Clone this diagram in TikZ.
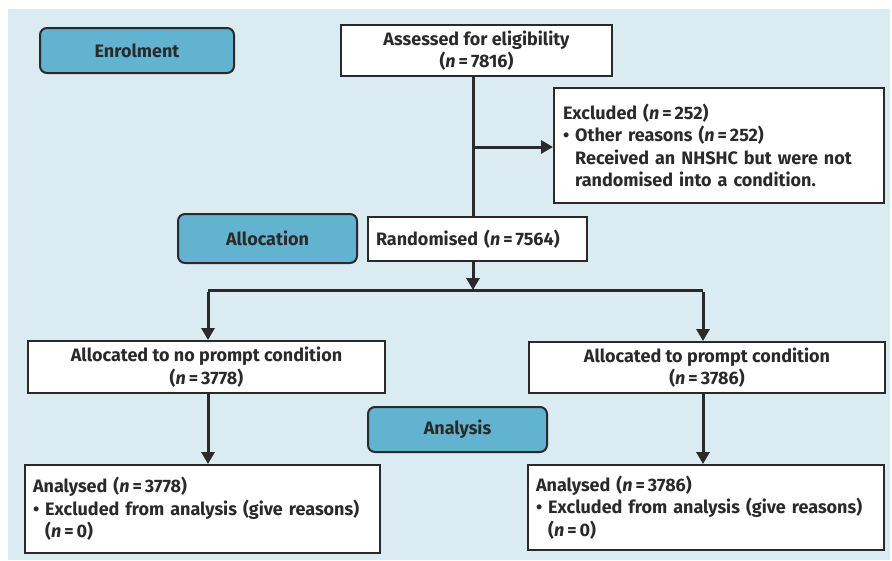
\documentclass[tikz,border=0pt]{standalone}
\usepackage{fontspec}
\setmainfont{Fira Sans}
\usetikzlibrary{arrows.meta,positioning}
\definecolor{bgblue}{HTML}{DBEBF2}
\definecolor{stage}{HTML}{62B3D0}
\definecolor{ink}{HTML}{2A2A2A}
\tikzset{
  box/.style={draw=ink, line width=2pt, fill=white, inner xsep=8pt, inner ysep=3pt,
    font=\bfseries\fontsize{18}{22.5}\selectfont, text=ink},
  stagebox/.style={draw=ink, line width=2pt, fill=stage, rounded corners=7pt,
    font=\bfseries\fontsize{18}{22}\selectfont, text=ink},
  conn/.style={draw=ink, line width=3pt},
  arr/.style={conn, -{Triangle[width=13pt,length=12pt]}}
}
\newcommand{\nn}{\textit{n}\,=\,}
\begin{document}
\begin{tikzpicture}[x=1pt,y=-1pt]
\useasboundingbox (0,0) rectangle (892,560);
\fill[white] (0,0) rectangle (892,560);
\fill[bgblue] (8,9) rectangle (890,560);
% stage labels
\node[stagebox, minimum width=194pt, minimum height=45pt] (enrol) at (137,50.5) {Enrolment};
\node[stagebox, minimum width=179pt, minimum height=49pt] (alloc) at (267.5,238.5) {Allocation};
\node[stagebox, minimum width=179pt, minimum height=45pt] (anal) at (457.5,429.5) {Analysis};
% boxes
\node[box, minimum width=271pt, minimum height=51pt, align=center] (assess) at (476.5,50.5)
  {Assessed for eligibility\\(\nn 7816)};
\node[box, minimum width=330pt, minimum height=115pt, text width=312pt, align=left] (excl) at (719,145.5)
  {Excluded (\nn 252)\\• Other reasons (\nn 252)\\\phantom{• }Received an NHSHC but were not\\\phantom{• }randomised into a condition.};
\node[box, minimum width=219pt, minimum height=44pt, text width=203pt, align=left] (rand) at (477.5,239)
  {Randomised (\nn 7564)};
\node[box, minimum width=357pt, minimum height=52pt, align=center] (lalloc) at (206.5,367)
  {Allocated to no prompt condition\\(\nn 3778)};
\node[box, minimum width=356pt, minimum height=51pt, align=center] (ralloc) at (707,367.5)
  {Allocated to prompt condition\\(\nn 3786)};
\node[box, minimum width=355pt, minimum height=88pt, text width=339pt, align=left] (lan) at (202.5,509)
  {Analysed (\nn 3778)\\• Excluded from analysis (give reasons)\\\phantom{• }(\nn 0)};
\node[box, minimum width=356pt, minimum height=85pt, text width=340pt, align=left] (ran) at (706,507.5)
  {Analysed (\nn 3786)\\• Excluded from analysis (give reasons)\\\phantom{• }(\nn 0)};
% connectors
\coordinate (spine) at (473,147);
\coordinate (branch) at (473,290);
\coordinate (bl) at (208,290);
\coordinate (br) at (703,290);
\draw[conn] (assess.south -| spine) -- (rand.north -| spine);
\draw[arr] (spine) -- (spine -| excl.west);
\draw[arr] (rand.south -| spine) -- (branch);
\draw[conn] (bl) -- (br);
\draw[arr] ([yshift=-1.5pt]bl) -- (lalloc.north -| bl);
\draw[arr] ([yshift=-1.5pt]br) -- (ralloc.north -| br);
\draw[arr] (lalloc.south -| bl) -- (lan.north -| bl);
\draw[arr] (ralloc.south -| br) -- (ran.north -| br);
\end{tikzpicture}
\end{document}
